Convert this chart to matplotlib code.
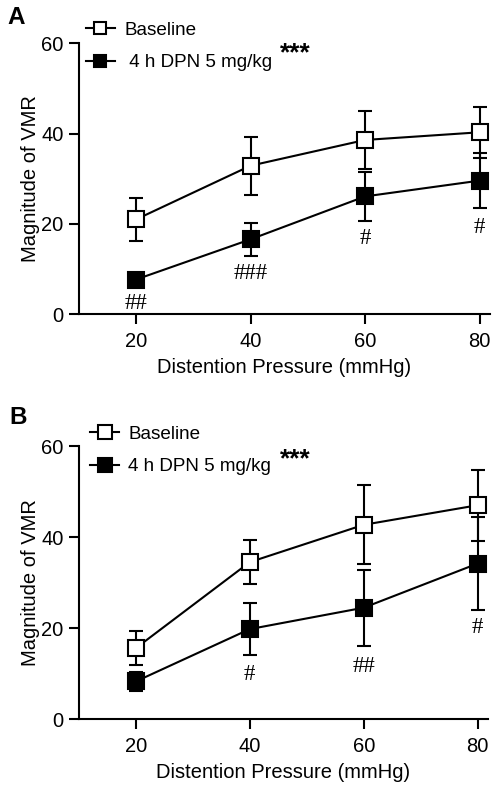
import matplotlib
matplotlib.use("Agg")
import matplotlib.pyplot as plt
from matplotlib.lines import Line2D

plt.rcParams['font.family'] = ['Liberation Sans', 'DejaVu Sans']

pressure = [20, 40, 60, 80]
labels = ["Baseline", "4 h DPN 5 mg/kg"]

# Panel A
a_base = [21.0, 32.9, 38.6, 40.3]
a_base_err = [4.7, 6.4, 6.4, 5.6]
a_dpn = [7.7, 16.6, 26.1, 29.6]
a_dpn_err = [1.0, 3.7, 5.4, 6.1]
a_hash = ["##", "###", "#", "#"]
a_hash_y = [2.4, 9.0, 16.8, 19.2]

# Panel B
b_base = [15.6, 34.5, 42.7, 47.0]
b_base_err = [3.7, 4.9, 8.7, 7.8]
b_dpn = [8.3, 19.8, 24.5, 34.2]
b_dpn_err = [2.1, 5.7, 8.3, 10.2]
b_hash = ["", "#", "##", "#"]
b_hash_y = [0, 9.8, 11.6, 20.1]

W, H = 501, 791
fig = plt.figure(figsize=(W/100, H/100), dpi=100)

def make_ax(left, right, top, bottom):
    return fig.add_axes([left/W, 1-bottom/H, (right-left)/W, (bottom-top)/H])

axA = make_ax(78.7, 490, 43.3, 314.3)
axB = make_ax(78.7, 488, 446, 719.3)

FS = 14.5
LFS = 13.6
LW = 1.5

def draw(ax, base, base_err, dpn, dpn_err, hashes, hash_y, lab2, leg_x, leg_y, lms):
    kw = dict(color='black', lw=LW, capsize=5, elinewidth=LW, capthick=LW,
              marker='s', markersize=11, markeredgewidth=1.5, markeredgecolor='black')
    ax.errorbar(pressure, base, yerr=base_err, markerfacecolor='white', zorder=3, **kw)
    ax.errorbar(pressure, dpn, yerr=dpn_err, markerfacecolor='black', zorder=3, **kw)
    ax.set_xlim(10, 81.8)
    ax.set_ylim(0, 60)
    ax.set_yticks([0, 20, 40, 60])
    ax.set_xticks(pressure)
    for s in ['top', 'right']:
        ax.spines[s].set_visible(False)
    for s in ['left', 'bottom']:
        ax.spines[s].set_linewidth(LW)
    ax.tick_params(axis='x', width=LW, length=7, labelsize=FS, pad=5.5)
    ax.tick_params(axis='y', width=LW, length=7, labelsize=FS, pad=4)
    ax.set_ylabel("Magnitude of VMR", fontsize=FS, labelpad=1)
    ax.set_xlabel("Distention Pressure (mmHg)", fontsize=FS, labelpad=5)
    for x, t, y in zip(pressure, hashes, hash_y):
        if t:
            ax.text(x, y, t, ha='center', va='center', fontsize=16.5,
                    family=['Liberation Serif'])
    h1 = Line2D([], [], color='black', lw=LW, marker='s', markersize=lms,
                markerfacecolor='white', markeredgecolor='black', markeredgewidth=1.5)
    h2 = Line2D([], [], color='black', lw=LW, marker='s', markersize=lms,
                markerfacecolor='black', markeredgecolor='black', markeredgewidth=1.5)
    ax.legend([h1, h2], [labels[0], lab2], loc='upper left',
              bbox_to_anchor=(leg_x, leg_y), frameon=False, fontsize=LFS,
              handlelength=1.5, handletextpad=0.5, labelspacing=0.8,
              borderaxespad=0)

draw(axA, a_base, a_base_err, a_dpn, a_dpn_err, a_hash, a_hash_y, " " + labels[1], 0.0, 1.107, 9)
draw(axB, b_base, b_base_err, b_dpn, b_dpn_err, b_hash, b_hash_y, labels[1], 0.01, 1.102, 10.5)

fig.text(295/W, 1-53/H, "***", fontsize=19, ha='center', va='center', fontweight='bold')
fig.text(295/W, 1-459/H, "***", fontsize=19, ha='center', va='center', fontweight='bold')
fig.text(16/W, 1-17.5/H, "A", fontsize=17.5, fontweight='bold', va='center', ha='center')
fig.text(18.5/W, 1-417/H, "B", fontsize=17.5, fontweight='bold', va='center', ha='center')

fig.savefig("out.png", dpi=100)
